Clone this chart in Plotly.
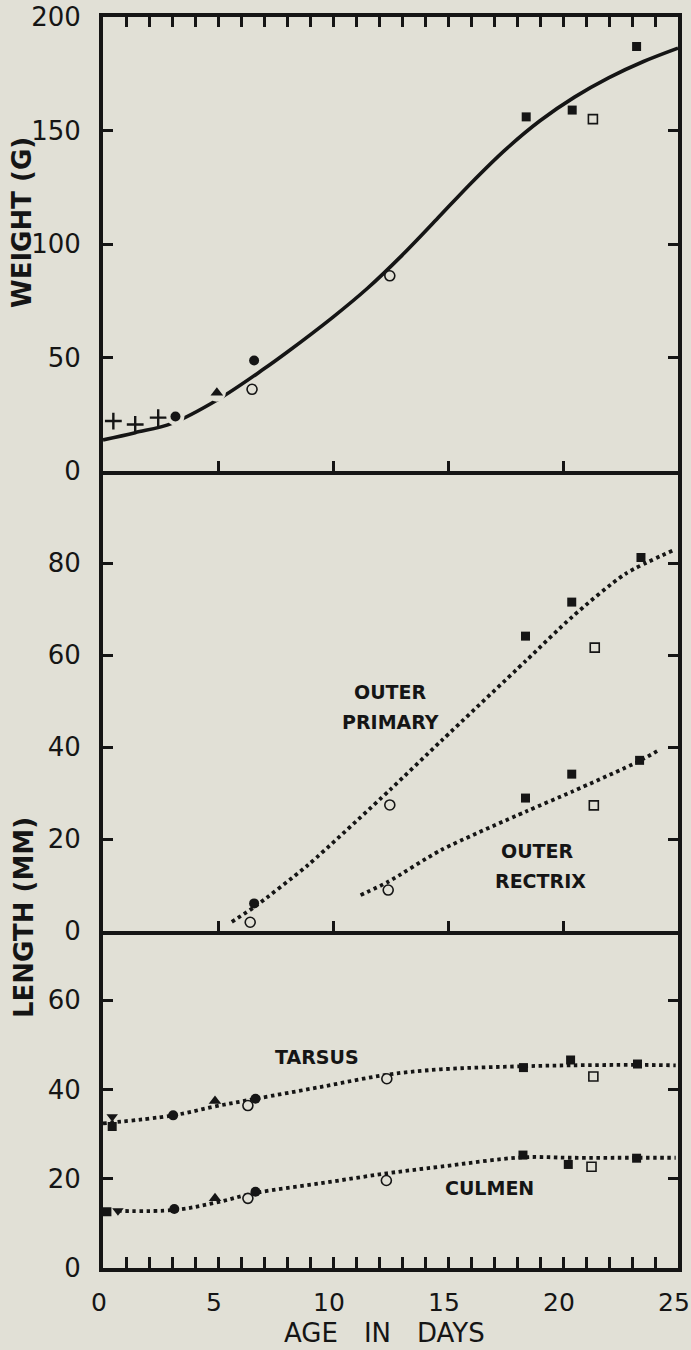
import plotly.graph_objects as go

# ---------------- DATA ----------------
# Weight panel (age in days, weight in g)
wt_cross_day = [0.45, 1.4, 2.4]
wt_cross_g = [22.0, 20.5, 23.5]
wt_dot_day = [3.15, 6.57]
wt_dot_g = [24.0, 48.7]
wt_tri_day = [4.95]
wt_tri_g = [34.5]
wt_ring_day = [6.48, 12.47]
wt_ring_g = [36.0, 86.0]
wt_sq_day = [18.4, 20.4, 23.2]
wt_sq_g = [156.0, 159.0, 187.0]
wt_box_day = [21.3]
wt_box_g = [155.0]
wt_curve_day = [0.0, 1.4, 3.0, 5.0, 7.0, 8.0, 10.0, 11.5, 13.0, 14.5, 16.0, 17.5, 19.0, 20.5, 22.0, 23.5, 25.0]
wt_curve_g = [13.7, 16.9, 21.0, 31.5, 45.0, 52.3, 67.8, 80.5, 95.0, 110.8, 126.8, 141.6, 154.3, 164.7, 173.3, 180.4, 186.3]

# Outer primary (mm)
pr_dot_day = [6.57]
pr_dot_mm = [6.0]
pr_ring_day = [6.4, 12.47]
pr_ring_mm = [1.9, 27.4]
pr_sq_day = [18.37, 20.38, 23.39]
pr_sq_mm = [64.1, 71.5, 81.2]
pr_box_day = [21.38]
pr_box_mm = [61.6]
pr_curve_day = [5.6, 6.6, 8.9, 12.5, 14.7, 18.4, 20.4, 22.7, 24.9]
pr_curve_mm = [2.0, 5.3, 14.3, 30.8, 41.3, 58.8, 68.3, 77.6, 83.0]

# Outer rectrix (mm)
rx_ring_day = [12.4]
rx_ring_mm = [8.9]
rx_sq_day = [18.37, 20.38, 23.33]
rx_sq_mm = [28.9, 34.1, 37.1]
rx_box_day = [21.34]
rx_box_mm = [27.3]
rx_curve_day = [11.2, 12.4, 14.7, 18.4, 20.4, 23.3, 24.2]
rx_curve_mm = [7.8, 10.7, 17.6, 26.0, 30.3, 36.9, 39.4]

# Tarsus (mm)
ta_dtri_day = [0.40]
ta_dtri_mm = [33.9]
ta_sq_day = [0.40, 18.28, 20.33, 23.24]
ta_sq_mm = [31.7, 44.9, 46.6, 45.7]
ta_dot_day = [3.05, 6.63]
ta_dot_mm = [34.2, 37.9]
ta_tri_day = [4.87]
ta_tri_mm = [37.4]
ta_ring_day = [6.30, 12.34]
ta_ring_mm = [36.4, 42.4]
ta_box_day = [21.32]
ta_box_mm = [42.9]
ta_curve_day = [0.0, 3.05, 4.87, 6.63, 9.5, 12.34, 14.67, 18.28, 20.3, 23.2, 24.9]
ta_curve_mm = [32.4, 34.2, 36.2, 37.9, 40.6, 43.3, 44.5, 45.2, 45.4, 45.5, 45.4]

# Culmen (mm)
cu_sq_day = [0.17, 18.26, 20.23, 23.2]
cu_sq_mm = [12.6, 25.3, 23.2, 24.6]
cu_dtri_day = [0.65]
cu_dtri_mm = [12.8]
cu_dot_day = [3.1, 6.63]
cu_dot_mm = [13.2, 17.1]
cu_tri_day = [4.87]
cu_tri_mm = [15.6]
cu_ring_day = [6.30, 12.32]
cu_ring_mm = [15.6, 19.6]
cu_box_day = [21.24]
cu_box_mm = [22.7]
cu_curve_day = [0.65, 3.1, 4.87, 6.63, 9.5, 12.34, 14.67, 18.26, 20.3, 23.2, 24.9]
cu_curve_mm = [12.8, 13.0, 14.6, 16.8, 19.0, 21.2, 22.7, 24.8, 24.7, 24.7, 24.7]

weight_ticks = [0, 50, 100, 150, 200]
mid_ticks = [0, 20, 40, 60, 80]
low_ticks = [0, 20, 40, 60]

# ---------------- STYLE ----------------
INK = "#151515"
BG = "#e1e0d6"
FONT = "DejaVu Sans"
W, H = 691, 1350
ML, MR, MT, MB = 103, 13, 17, 82
plot_h = H - MT - MB
d0 = (1268 - 931) / plot_h
d1 = (1268 - 471) / plot_h

fig = go.Figure()


def add_line(x, y, xa, ya, dotted, smooth=1.0):
    fig.add_trace(go.Scatter(
        x=x, y=y, mode="lines", xaxis=xa, yaxis=ya, hoverinfo="skip",
        line=dict(color=INK, width=3.8 if dotted else 3.6, shape="spline", smoothing=smooth,
                  dash="3.5px,3.6px" if dotted else "solid")))


STY = {
    "dot": dict(symbol="circle", size=10, color=INK, line=dict(width=0)),
    "sq": dict(symbol="square", size=9, color=INK, line=dict(width=0)),
    "tri": dict(symbol="triangle-up", size=11, color=INK, line=dict(width=0)),
    "dtri": dict(symbol="triangle-down", size=10, color=INK, line=dict(width=0)),
    "ring": dict(symbol="circle", size=10, color=BG, line=dict(color=INK, width=1.6)),
    "box": dict(symbol="square", size=9, color=BG, line=dict(color=INK, width=1.6)),
    "cross": dict(symbol="cross-thin-open", size=12, color=INK, line=dict(color=INK, width=2.4)),
}


def add_pts(x, y, xa, ya, kind, halo=False):
    if halo:
        fig.add_trace(go.Scatter(x=x, y=y, mode="markers", xaxis=xa, yaxis=ya, hoverinfo="skip",
                                 marker=dict(symbol="circle", size=18, color=BG, line=dict(width=0))))
    fig.add_trace(go.Scatter(x=x, y=y, mode="markers", xaxis=xa, yaxis=ya,
                             marker=STY[kind], hoverinfo="skip"))


# Weight panel
add_line(wt_curve_day, wt_curve_g, "x", "y", False)
add_pts(wt_cross_day, wt_cross_g, "x", "y", "cross")
add_pts(wt_dot_day, wt_dot_g, "x", "y", "dot", halo=True)
add_pts(wt_tri_day, wt_tri_g, "x", "y", "tri", halo=True)
add_pts(wt_ring_day, wt_ring_g, "x", "y", "ring")
add_pts(wt_sq_day, wt_sq_g, "x", "y", "sq")
add_pts(wt_box_day, wt_box_g, "x", "y", "box")
# invisible trace to hold the top frame axis
fig.add_trace(go.Scatter(x=[0, 25], y=[0, 0], xaxis="x4", yaxis="y", mode="markers",
                         marker=dict(opacity=0), hoverinfo="skip"))

# Feather panel
add_line(pr_curve_day, pr_curve_mm, "x2", "y2", True, smooth=0.7)
add_line(rx_curve_day, rx_curve_mm, "x2", "y2", True, smooth=0.7)
add_pts(pr_dot_day, pr_dot_mm, "x2", "y2", "dot")
add_pts(pr_ring_day, pr_ring_mm, "x2", "y2", "ring")
add_pts(pr_sq_day, pr_sq_mm, "x2", "y2", "sq")
add_pts(pr_box_day, pr_box_mm, "x2", "y2", "box")
add_pts(rx_ring_day, rx_ring_mm, "x2", "y2", "ring")
add_pts(rx_sq_day, rx_sq_mm, "x2", "y2", "sq")
add_pts(rx_box_day, rx_box_mm, "x2", "y2", "box")

# Tarsus / culmen panel
add_line(ta_curve_day, ta_curve_mm, "x3", "y3", True)
add_line(cu_curve_day, cu_curve_mm, "x3", "y3", True)
for pre_day, pre_mm, kind in [
    (ta_dtri_day, ta_dtri_mm, "dtri"), (ta_sq_day, ta_sq_mm, "sq"), (ta_dot_day, ta_dot_mm, "dot"),
    (ta_tri_day, ta_tri_mm, "tri"), (ta_ring_day, ta_ring_mm, "ring"), (ta_box_day, ta_box_mm, "box"),
    (cu_sq_day, cu_sq_mm, "sq"), (cu_dtri_day, cu_dtri_mm, "dtri"), (cu_dot_day, cu_dot_mm, "dot"),
    (cu_tri_day, cu_tri_mm, "tri"), (cu_ring_day, cu_ring_mm, "ring"), (cu_box_day, cu_box_mm, "box")]:
    add_pts(pre_day, pre_mm, "x3", "y3", kind)

tickfont = dict(family=FONT, size=26, color=INK)
yax = dict(showline=True, linecolor=INK, linewidth=4, mirror="ticks", ticks="inside",
           ticklen=10, tickwidth=2.5, tickcolor=INK, showgrid=False, zeroline=False,
           tickfont=tickfont, ticklabelstandoff=13, fixedrange=True, automargin=False)
xax = dict(showline=True, linecolor=INK, linewidth=4, ticks="inside", ticklen=10,
           tickwidth=2.5, tickcolor=INK, showgrid=False, zeroline=False, range=[0, 25],
           showticklabels=False, fixedrange=True, automargin=False)
minor = dict(dtick=1, tick0=0, ticks="inside", ticklen=10, tickwidth=2.5, tickcolor=INK)

fig.update_layout(
    width=W, height=H, autosize=False, margin=dict(l=ML, r=MR, t=MT, b=MB, autoexpand=False),
    paper_bgcolor=BG, plot_bgcolor=BG, showlegend=False,
    font=dict(family=FONT, color=INK),
    yaxis=dict(yax, domain=[d1, 1], range=[0, 200], tickvals=weight_ticks, anchor="x"),
    yaxis2=dict(yax, domain=[d0, d1], range=[0, 100], tickvals=mid_ticks, anchor="x2"),
    yaxis3=dict(yax, domain=[0, d0], range=[0, 75.5], tickvals=low_ticks, anchor="x3"),
    xaxis=dict(xax, anchor="y", tickvals=[5, 10, 15, 20]),
    xaxis2=dict(xax, anchor="y2", tickvals=[5, 10, 15, 20]),
    xaxis3=dict(xax, anchor="y3", dtick=5, tick0=0, showticklabels=True, ticklen=11,
                tickfont=dict(tickfont, size=25), ticklabelstandoff=9, ticklabelshift=-4,
                minor=dict(minor, ticklen=11)),
    xaxis4=dict(xax, anchor="y", overlaying="x", side="top", dtick=5, tick0=0, minor=minor),
)

title_font = dict(family=FONT, size=26, color=INK, weight="bold")
label_font = dict(family=FONT, size=19, color=INK, weight="bold")


def px_x(p):
    return (p - ML) / (W - ML - MR)


def px_y(p):
    return (H - MB - p) / plot_h


fig.add_annotation(text="WEIGHT (G)", xref="paper", yref="paper", x=px_x(22), y=px_y(223),
                   textangle=-90, showarrow=False, font=title_font, xanchor="center", yanchor="middle")
fig.add_annotation(text="LENGTH (MM)", xref="paper", yref="paper", x=px_x(24), y=px_y(918),
                   textangle=-90, showarrow=False, font=title_font, xanchor="center", yanchor="middle")
fig.add_annotation(text="AGE\u2003IN\u2003DAYS", xref="paper", yref="paper", x=px_x(384), y=px_y(1333),
                   showarrow=False, font=dict(family=FONT, size=26, color=INK),
                   xanchor="center", yanchor="middle")

for txt, x, y, xr, yr in [("OUTER", 12.48, 51.9, "x2", "y2"), ("PRIMARY", 12.52, 45.5, "x2", "y2"),
                          ("OUTER", 18.87, 17.4, "x2", "y2"), ("RECTRIX", 19.0, 10.9, "x2", "y2"),
                          ("TARSUS", 9.3, 47.3, "x3", "y3"), ("CULMEN", 16.8, 17.9, "x3", "y3")]:
    fig.add_annotation(text=txt, x=x, y=y, xref=xr, yref=yr, showarrow=False, font=label_font,
                       xanchor="center", yanchor="middle")

fig.write_html("out.html", config={"displayModeBar": False},
               post_script="document.body.style.margin='0px';"
                           "document.documentElement.style.overflow='hidden';"
                           "document.body.style.overflow='hidden';")
